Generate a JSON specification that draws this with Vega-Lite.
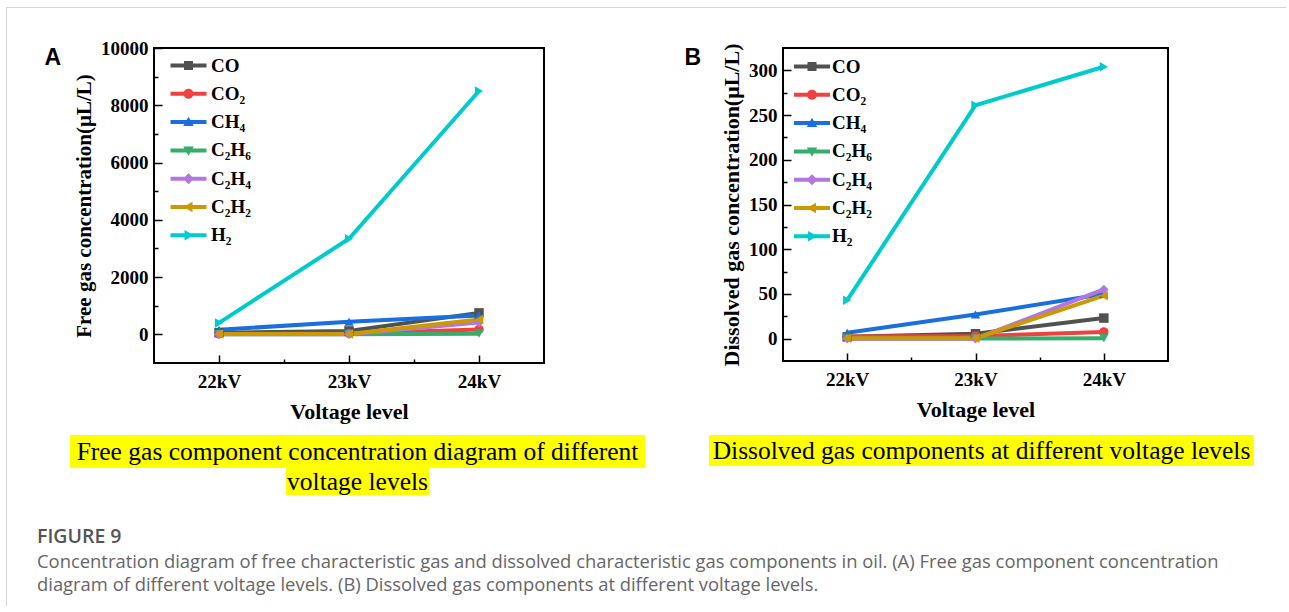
{
  "$schema": "https://vega.github.io/schema/vega-lite/v6.json",
  "padding": {"left": 6, "top": 7, "right": 0, "bottom": 0},
  "background": "#ffffff",
  "config": {
    "view": {"stroke": null},
    "axis": {"grid": false, "domain": false, "tickColor": "#000000", "tickWidth": 1.5, "labelFont": "Liberation Serif", "labelFontSize": 19, "labelFontWeight": "bold", "labelColor": "#000000", "labelOverlap": false, "labelFlush": false, "titleFont": "Liberation Serif", "titleFontWeight": "bold", "titleColor": "#000000", "titleFontSize": 22},
    "legend": {"title": null, "orient": "top-left", "padding": 0, "symbolSize": 100, "symbolStrokeWidth": 0, "symbolOpacity": 1, "rowPadding": 8.3, "labelFont": "Liberation Serif", "labelFontSize": 19, "labelFontWeight": "bold", "labelColor": "#000000", "labelLimit": 200}
  },
  "datasets": {
    "free": [
      {"gas": "CO", "kv": 22, "value": 60}, {"gas": "CO", "kv": 23, "value": 120}, {"gas": "CO", "kv": 24, "value": 750},
      {"gas": "CO₂", "kv": 22, "value": 20}, {"gas": "CO₂", "kv": 23, "value": 30}, {"gas": "CO₂", "kv": 24, "value": 170},
      {"gas": "CH₄", "kv": 22, "value": 160}, {"gas": "CH₄", "kv": 23, "value": 440}, {"gas": "CH₄", "kv": 24, "value": 660},
      {"gas": "C₂H₆", "kv": 22, "value": 5}, {"gas": "C₂H₆", "kv": 23, "value": 5}, {"gas": "C₂H₆", "kv": 24, "value": 25},
      {"gas": "C₂H₄", "kv": 22, "value": 0}, {"gas": "C₂H₄", "kv": 23, "value": 0}, {"gas": "C₂H₄", "kv": 24, "value": 410},
      {"gas": "C₂H₂", "kv": 22, "value": 10}, {"gas": "C₂H₂", "kv": 23, "value": 10}, {"gas": "C₂H₂", "kv": 24, "value": 520},
      {"gas": "H₂", "kv": 22, "value": 400}, {"gas": "H₂", "kv": 23, "value": 3340}, {"gas": "H₂", "kv": 24, "value": 8500}
    ],
    "dissolved": [
      {"gas": "CO", "kv": 22, "value": 2}, {"gas": "CO", "kv": 23, "value": 5.5}, {"gas": "CO", "kv": 24, "value": 23},
      {"gas": "CO₂", "kv": 22, "value": 2.5}, {"gas": "CO₂", "kv": 23, "value": 3}, {"gas": "CO₂", "kv": 24, "value": 7.5},
      {"gas": "CH₄", "kv": 22, "value": 6.5}, {"gas": "CH₄", "kv": 23, "value": 27}, {"gas": "CH₄", "kv": 24, "value": 50},
      {"gas": "C₂H₆", "kv": 22, "value": 0.2}, {"gas": "C₂H₆", "kv": 23, "value": 0.2}, {"gas": "C₂H₆", "kv": 24, "value": 0.5},
      {"gas": "C₂H₄", "kv": 22, "value": 0}, {"gas": "C₂H₄", "kv": 23, "value": 0}, {"gas": "C₂H₄", "kv": 24, "value": 55},
      {"gas": "C₂H₂", "kv": 22, "value": 0.5}, {"gas": "C₂H₂", "kv": 23, "value": 0.5}, {"gas": "C₂H₂", "kv": 24, "value": 48},
      {"gas": "H₂", "kv": 22, "value": 43}, {"gas": "H₂", "kv": 23, "value": 261}, {"gas": "H₂", "kv": 24, "value": 304}
    ]
  },
  "spacing": 0,
  "vconcat": [
    {"width": 1280, "height": 1, "mark": "point", "data": {"values": []}, "view": {"fill": "#d4d4d4", "stroke": null}},
    {
      "spacing": 30,
      "hconcat": [
        {"width": 1, "height": 598, "mark": "point", "data": {"values": []}, "view": {"fill": "#d4d4d4", "stroke": null}},
        {
          "spacing": 12,
          "title": {
            "text": "FIGURE 9",
            "subtitle": ["Concentration diagram of free characteristic gas and dissolved characteristic gas components in oil. (A) Free gas component concentration", "diagram of different voltage levels. (B) Dissolved gas components at different voltage levels."],
            "orient": "bottom", "anchor": "start", "frame": "bounds", "offset": 33, "dx": -5,
            "font": "Open Sans", "fontSize": 19.5, "fontWeight": 600, "color": "#555555",
            "subtitleFont": "Open Sans", "subtitleFontSize": 18.4, "subtitleColor": "#666666", "subtitleLineHeight": 23, "subtitlePadding": 5
          },
          "vconcat": [
            {"width": 1, "height": 18, "mark": "point", "data": {"values": []}, "view": {"stroke": null}},
            {
              "spacing": 0,
              "resolve": {"scale": {"color": "independent", "shape": "independent"}, "legend": {"color": "independent", "shape": "independent"}},
              "hconcat": [
                {"width": 1, "height": 1, "mark": "point", "data": {"values": []}, "view": {"stroke": null}},
                {
                  "spacing": 138,
                  "resolve": {"scale": {"color": "independent", "shape": "independent"}, "legend": {"color": "independent", "shape": "independent"}},
                  "hconcat": [
                    {
                      "width": 390, "height": 315,
                      "data": {"name": "free"},
                      "title": {"text": "A", "anchor": "start", "frame": "bounds", "offset": 0, "dx": -29, "dy": 31, "font": "Liberation Sans", "fontSize": 23, "fontWeight": "bold", "color": "#000000"},
                      "view": {"stroke": "#000000", "strokeWidth": 2},
                      "resolve": {"axis": {"x": "independent", "y": "independent"}, "scale": {"color": "independent", "shape": "independent"}},
                      "layer": [
                        {
                          "mark": {"type": "line", "strokeWidth": 4},
                          "encoding": {
                            "x": {"field": "kv", "type": "quantitative", "scale": {"domain": [21.5, 24.5], "nice": false, "zero": false},
                              "axis": {"orient": "bottom", "title": "Voltage level", "values": [22, 23, 24], "labelExpr": "datum.value + 'kV'", "tickSize": -8, "labelPadding": 17, "titlePadding": 10}},
                            "y": {"field": "value", "type": "quantitative", "scale": {"domain": [-1000, 10000], "nice": false, "zero": false},
                              "axis": {"orient": "left", "title": "Free gas concentration(μL/L)", "titleFontSize": 21, "values": [0, 2000, 4000, 6000, 8000, 10000], "format": "d", "tickSize": -8, "labelPadding": 14, "titlePadding": 6}},
                            "color": {"field": "gas", "type": "nominal", "legend": null,
                              "scale": {"domain": ["CO", "CO₂", "CH₄", "C₂H₆", "C₂H₄", "C₂H₂", "H₂"], "range": ["#515151", "#F14040", "#1A6FDF", "#37AD6B", "#B177DE", "#CC9900", "#00CBCC"]}}
                          }
                        },
                        {
                          "mark": {"type": "point", "filled": true, "size": 90, "opacity": 1},
                          "encoding": {
                            "x": {"field": "kv", "type": "quantitative", "scale": {"domain": [21.5, 24.5], "nice": false, "zero": false},
                              "axis": {"orient": "bottom", "title": null, "values": [22.5, 23.5], "labels": false, "tickSize": -4}},
                            "y": {"field": "value", "type": "quantitative", "scale": {"domain": [-1000, 10000], "nice": false, "zero": false},
                              "axis": {"orient": "left", "title": null, "values": [1000, 3000, 5000, 7000, 9000], "labels": false, "tickSize": -4}},
                            "color": {"field": "gas", "type": "nominal", "legend": null,
                              "scale": {"domain": ["CO", "CO₂", "CH₄", "C₂H₆", "C₂H₄", "C₂H₂", "H₂"], "range": ["#515151", "#F14040", "#1A6FDF", "#37AD6B", "#B177DE", "#CC9900", "#00CBCC"]}},
                            "shape": {"field": "gas", "type": "nominal", "legend": null,
                              "scale": {"domain": ["CO", "CO₂", "CH₄", "C₂H₆", "C₂H₄", "C₂H₂", "H₂"], "range": ["square", "circle", "triangle-up", "triangle-down", "diamond", "triangle-left", "triangle-right"]}}
                          }
                        },
                        {
                          "transform": [{"filter": "false"}],
                          "mark": {"type": "point", "filled": true, "opacity": 1},
                          "encoding": {
                            "x": {"field": "kv", "type": "quantitative", "axis": null},
                            "y": {"field": "value", "type": "quantitative", "axis": null},
                            "color": {"field": "gas", "type": "nominal",
                              "scale": {"domain": ["CO", "CO₂", "CH₄", "C₂H₆", "C₂H₄", "C₂H₂", "H₂"], "range": ["#515151", "#F14040", "#1A6FDF", "#37AD6B", "#B177DE", "#CC9900", "#00CBCC"]},
                              "legend": {"offset": 8, "symbolOffset": 17, "labelOffset": 13}},
                            "shape": {"field": "gas", "type": "nominal",
                              "scale": {"domain": ["CO", "CO₂", "CH₄", "C₂H₆", "C₂H₄", "C₂H₂", "H₂"], "range": [
                                "M-3.6,-0.4H3.6V0.4H-3.6Z M-0.9,-0.9H0.9V0.9H-0.9Z",
                                "M-3.6,-0.4H3.6V0.4H-3.6Z M-1,0A1,1 0 1,1 1,0A1,1 0 1,1 -1,0Z",
                                "M-3.6,-0.4H3.6V0.4H-3.6Z M0,-1.05L1.05,0.8H-1.05Z",
                                "M-3.6,-0.4H3.6V0.4H-3.6Z M-1.05,-0.8H1.05L0,1.05Z",
                                "M-3.6,-0.4H3.6V0.4H-3.6Z M0,-1.1L1.1,0L0,1.1L-1.1,0Z",
                                "M-3.6,-0.4H3.6V0.4H-3.6Z M-1.05,0L0.8,-1.05V1.05Z",
                                "M-3.6,-0.4H3.6V0.4H-3.6Z M1.05,0L-0.8,1.05V-1.05Z"]},
                              "legend": {"offset": 8, "symbolOffset": 17, "labelOffset": 13}}
                          }
                        }
                      ]
                    },
                    {
                      "width": 385, "height": 313,
                      "data": {"name": "dissolved"},
                      "title": {"text": "B", "anchor": "start", "frame": "bounds", "offset": 0, "dx": -36, "dy": 26.5, "font": "Liberation Sans", "fontSize": 23, "fontWeight": "bold", "color": "#000000"},
                      "view": {"stroke": "#000000", "strokeWidth": 2},
                      "resolve": {"axis": {"x": "independent", "y": "independent"}, "scale": {"color": "independent", "shape": "independent"}},
                      "layer": [
                        {
                          "mark": {"type": "line", "strokeWidth": 4},
                          "encoding": {
                            "x": {"field": "kv", "type": "quantitative", "scale": {"domain": [21.5, 24.5], "nice": false, "zero": false},
                              "axis": {"orient": "bottom", "title": "Voltage level", "values": [22, 23, 24], "labelExpr": "datum.value + 'kV'", "tickSize": -8, "labelPadding": 17, "titlePadding": 10}},
                            "y": {"field": "value", "type": "quantitative", "scale": {"domain": [-25, 325], "nice": false, "zero": false},
                              "axis": {"orient": "left", "title": "Dissolved gas concentration(μL/L)", "values": [0, 50, 100, 150, 200, 250, 300], "format": "d", "tickSize": -8, "labelPadding": 14, "titlePadding": 5}},
                            "color": {"field": "gas", "type": "nominal", "legend": null,
                              "scale": {"domain": ["CO", "CO₂", "CH₄", "C₂H₆", "C₂H₄", "C₂H₂", "H₂"], "range": ["#515151", "#F14040", "#1A6FDF", "#37AD6B", "#B177DE", "#CC9900", "#00CBCC"]}}
                          }
                        },
                        {
                          "mark": {"type": "point", "filled": true, "size": 90, "opacity": 1},
                          "encoding": {
                            "x": {"field": "kv", "type": "quantitative", "scale": {"domain": [21.5, 24.5], "nice": false, "zero": false},
                              "axis": {"orient": "bottom", "title": null, "values": [22.5, 23.5], "labels": false, "tickSize": -4}},
                            "y": {"field": "value", "type": "quantitative", "scale": {"domain": [-25, 325], "nice": false, "zero": false},
                              "axis": {"orient": "left", "title": null, "values": [25, 75, 125, 175, 225, 275], "labels": false, "tickSize": -4}},
                            "color": {"field": "gas", "type": "nominal", "legend": null,
                              "scale": {"domain": ["CO", "CO₂", "CH₄", "C₂H₆", "C₂H₄", "C₂H₂", "H₂"], "range": ["#515151", "#F14040", "#1A6FDF", "#37AD6B", "#B177DE", "#CC9900", "#00CBCC"]}},
                            "shape": {"field": "gas", "type": "nominal", "legend": null,
                              "scale": {"domain": ["CO", "CO₂", "CH₄", "C₂H₆", "C₂H₄", "C₂H₂", "H₂"], "range": ["square", "circle", "triangle-up", "triangle-down", "diamond", "triangle-left", "triangle-right"]}}
                          }
                        },
                        {
                          "transform": [{"filter": "false"}],
                          "mark": {"type": "point", "filled": true, "opacity": 1},
                          "encoding": {
                            "x": {"field": "kv", "type": "quantitative", "axis": null},
                            "y": {"field": "value", "type": "quantitative", "axis": null},
                            "color": {"field": "gas", "type": "nominal",
                              "scale": {"domain": ["CO", "CO₂", "CH₄", "C₂H₆", "C₂H₄", "C₂H₂", "H₂"], "range": ["#515151", "#F14040", "#1A6FDF", "#37AD6B", "#B177DE", "#CC9900", "#00CBCC"]},
                              "legend": {"offset": 9, "symbolOffset": 10.5, "labelOffset": 10.5}},
                            "shape": {"field": "gas", "type": "nominal",
                              "scale": {"domain": ["CO", "CO₂", "CH₄", "C₂H₆", "C₂H₄", "C₂H₂", "H₂"], "range": [
                                "M-3.6,-0.4H3.6V0.4H-3.6Z M-0.9,-0.9H0.9V0.9H-0.9Z",
                                "M-3.6,-0.4H3.6V0.4H-3.6Z M-1,0A1,1 0 1,1 1,0A1,1 0 1,1 -1,0Z",
                                "M-3.6,-0.4H3.6V0.4H-3.6Z M0,-1.05L1.05,0.8H-1.05Z",
                                "M-3.6,-0.4H3.6V0.4H-3.6Z M-1.05,-0.8H1.05L0,1.05Z",
                                "M-3.6,-0.4H3.6V0.4H-3.6Z M0,-1.1L1.1,0L0,1.1L-1.1,0Z",
                                "M-3.6,-0.4H3.6V0.4H-3.6Z M-1.05,0L0.8,-1.05V1.05Z",
                                "M-3.6,-0.4H3.6V0.4H-3.6Z M1.05,0L-0.8,1.05V-1.05Z"]},
                              "legend": {"offset": 9, "symbolOffset": 10.5, "labelOffset": 10.5}}
                          }
                        }
                      ]
                    }
                  ]
                }
              ]
            },
            {
              "spacing": 0,
              "hconcat": [
                {"width": 28, "height": 1, "mark": "point", "data": {"values": []}, "view": {"stroke": null}},
                {
                  "spacing": 0,
                  "center": true,
                  "vconcat": [
                    {"width": 575, "height": 33, "view": {"fill": "#FFFF00", "stroke": null},
                      "data": {"values": [{"t": "Free gas component concentration diagram of different"}]},
                      "mark": {"type": "text", "font": "Liberation Serif", "fontSize": 25.5, "color": "#000000", "align": "center", "baseline": "middle"},
                      "encoding": {"text": {"field": "t"}}},
                    {"width": 143, "height": 27, "view": {"fill": "#FFFF00", "stroke": null},
                      "data": {"values": [{"t": "voltage levels"}]},
                      "mark": {"type": "text", "font": "Liberation Serif", "fontSize": 25.5, "color": "#000000", "align": "center", "baseline": "middle"},
                      "encoding": {"text": {"field": "t"}}}
                  ]
                },
                {"width": 64, "height": 1, "mark": "point", "data": {"values": []}, "view": {"stroke": null}},
                {"width": 545, "height": 31, "view": {"fill": "#FFFF00", "stroke": null},
                  "data": {"values": [{"t": "Dissolved gas components at different voltage levels"}]},
                  "mark": {"type": "text", "font": "Liberation Serif", "fontSize": 25.5, "color": "#000000", "align": "center", "baseline": "middle"},
                  "encoding": {"text": {"field": "t"}}}
              ]
            }
          ]
        }
      ]
    }
  ]
}
